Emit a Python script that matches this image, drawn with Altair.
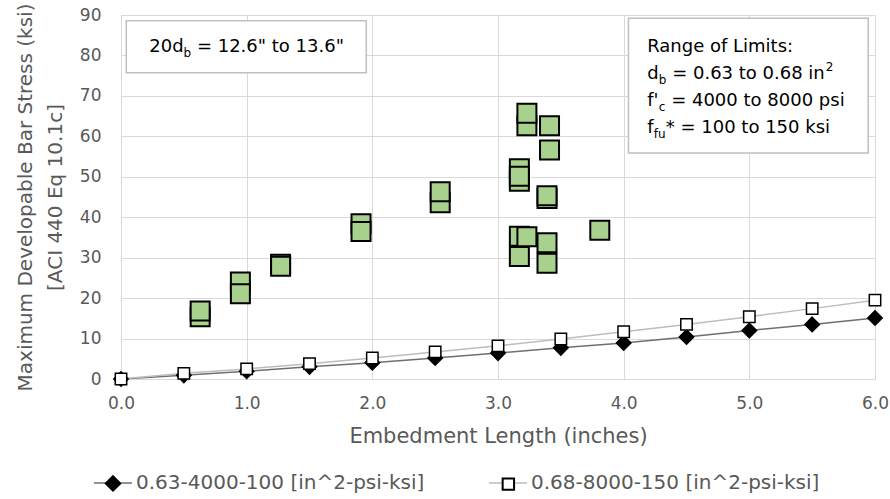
import altair as alt
import pandas as pd

# ---------------- data ----------------
emb_len = [0.0, 0.5, 1.0, 1.5, 2.0, 2.5, 3.0, 3.5, 4.0, 4.5, 5.0, 5.5, 6.0]
stress_low = [0.0, 0.9, 1.9, 3.0, 4.0, 5.2, 6.4, 7.7, 8.9, 10.4, 12.0, 13.5, 15.1]
stress_high = [0.0, 1.4, 2.5, 3.8, 5.2, 6.7, 8.2, 9.9, 11.7, 13.5, 15.4, 17.4, 19.5]
series_names = ["0.63-4000-100 [in^2-psi-ksi]", "0.68-8000-150 [in^2-psi-ksi]"]
marker_keys = ["m0", "m1"]

test_x = [0.63, 0.63, 0.95, 0.95, 1.27, 1.27, 1.91, 1.91, 2.54, 2.54,
          3.17, 3.17, 3.17, 3.17, 3.17, 3.23, 3.23, 3.23,
          3.41, 3.41, 3.39, 3.39, 3.39, 3.39, 3.81]
test_y = [15.4, 16.8, 24.0, 21.1, 28.4, 27.9, 38.4, 36.5, 43.6, 46.3,
          52.0, 48.9, 50.1, 35.3, 30.3, 62.6, 65.7, 35.2,
          62.6, 56.6, 44.6, 45.3, 33.7, 28.6, 36.8]

x_ticks = [0, 1, 2, 3, 4, 5, 6]
y_ticks = [0, 10, 20, 30, 40, 50, 60, 70, 80, 90]

FONT = "DejaVu Sans"
GRID = "#d9d9d9"
TXT = "#595959"

n = len(emb_len)
lines_df = pd.DataFrame({
    "x": emb_len + emb_len,
    "y": stress_low + stress_high,
    "series": [series_names[0]] * n + [series_names[1]] * n,
    "series_m": [marker_keys[0]] * n + [marker_keys[1]] * n,
})
tests_df = pd.DataFrame({"x": test_x, "y": test_y})
one_row = pd.DataFrame({"k": [0]})

x_scale = alt.Scale(domain=[0, 6], nice=False, zero=False)
y_scale = alt.Scale(domain=[0, 90], nice=False)
x_axis = alt.Axis(values=x_ticks, format=".1f", title="Embedment Length (inches)")
y_axis = alt.Axis(values=y_ticks, format="d",
                  title=["Maximum Developable Bar Stress (ksi)", "[ACI 440 Eq 10.1c]"])


def X(f):
    return alt.X(f, type="quantitative", scale=x_scale, axis=x_axis)


def Y(f):
    return alt.Y(f, type="quantitative", scale=y_scale, axis=y_axis)


def XD(v):
    return alt.XDatum(v, type="quantitative", scale=x_scale, axis=x_axis)


def YD(v):
    return alt.YDatum(v, type="quantitative", scale=y_scale, axis=y_axis)


# legend: lines + labels (A) with the markers (B) drawn over the line centres.
# B has blank labels (zero width), so its column padding spans A's label.
LEG_FS = 20
LABEL_W = 14.418 * LEG_FS          # A label width (DejaVu Sans)
LAB_OFF = 3
GAP = 61
common_leg = dict(title=None, orient="none", legendX=-28, legendY=448,
                  direction="horizontal", symbolSize=1444,
                  labelFont=FONT, labelColor=TXT, labelOffset=LAB_OFF, labelLimit=600)
leg_lines = alt.Legend(symbolType="stroke", symbolStrokeWidth=1.5, zindex=1,
                       columnPadding=GAP, labelFontSize=LEG_FS, **common_leg)
leg_marks = alt.Legend(symbolOpacity=1, symbolStrokeWidth=2, labelExpr="' '",
                       labelFontSize=1, columnPadding=LAB_OFF + LABEL_W + GAP,
                       zindex=2, **common_leg)

lines = alt.Chart(lines_df).mark_line(strokeWidth=1.5).encode(
    x=X("x"), y=Y("y"),
    color=alt.Color("series:N", scale=alt.Scale(domain=series_names,
                                                range=["#6f6f6f", "#bdbdbd"]),
                    legend=leg_lines),
)

diamond = "M0,-0.38L0.38,0L0,0.38L-0.38,0Z"
square = "M-0.3,-0.3L0.3,-0.3L0.3,0.3L-0.3,0.3Z"
markers = alt.Chart(lines_df).mark_point(filled=True, size=1444,
                                         strokeWidth=1.5, opacity=1).encode(
    x=X("x"), y=Y("y"),
    shape=alt.Shape("series_m:N", scale=alt.Scale(domain=marker_keys,
                                                  range=[diamond, square]),
                    legend=leg_marks),
    fill=alt.Fill("series_m:N", scale=alt.Scale(domain=marker_keys,
                                                range=["black", "white"]),
                  legend=leg_marks),
    stroke=alt.Stroke("series_m:N", scale=alt.Scale(domain=marker_keys,
                                                    range=["black", "black"]),
                      legend=leg_marks),
)

tests = alt.Chart(tests_df).mark_point(shape="square", filled=True, size=361,
                                       fill="#a9d18e", stroke="black",
                                       strokeWidth=2, opacity=1).encode(
    x=X("x"), y=Y("y"))

# annotation boxes
box1 = alt.Chart(one_row).mark_rect(fill="white", stroke="#bfbfbf", strokeWidth=1.5).encode(
    x=XD(0.042), x2=alt.X2Datum(1.952), y=YD(88.6), y2=alt.Y2Datum(75.7))
box2 = alt.Chart(one_row).mark_rect(fill="white", stroke="#bfbfbf", strokeWidth=1.5).encode(
    x=XD(4.038), x2=alt.X2Datum(5.946), y=YD(89.2), y2=alt.Y2Datum(55.9))


def piece(xv, yv, text, dx=0, dy=0, size=18):
    return alt.Chart(one_row).mark_text(text=text, align="left", baseline="middle",
                                        font=FONT, fontSize=size, color="black",
                                        dx=dx, dy=dy).encode(x=XD(xv), y=YD(yv))


SUB = 12
b1x, b1y = 0.997, 82.2
texts = [
    piece(b1x, b1y, "20d", dx=-97),
    piece(b1x, b1y, "b", dx=-62.7, dy=6, size=SUB),
    piece(b1x, b1y, "= 12.6\" to 13.6\"", dx=-49.4),
]
b2x, b2y = 4.187, 82.2
texts += [
    piece(b2x, b2y, "Range of Limits:"),
    piece(b2x, b2y, "d", dy=27),
    piece(b2x, b2y, "b", dx=11.6, dy=33, size=SUB),
    piece(b2x, b2y, "= 0.63 to 0.68 in", dx=25, dy=27),
    piece(b2x, b2y, "2", dx=178.5, dy=20, size=SUB),
    piece(b2x, b2y, "f'", dy=54),
    piece(b2x, b2y, "c", dx=11.5, dy=60, size=SUB),
    piece(b2x, b2y, "= 4000 to 8000 psi", dx=24, dy=54),
    piece(b2x, b2y, "f", dy=81),
    piece(b2x, b2y, "fu", dx=6.5, dy=87, size=SUB),
    piece(b2x, b2y, "* = 100 to 150 ksi", dx=18.6, dy=81),
]

chart = alt.layer(lines, markers, tests, box1, box2, *texts).properties(
    width=754, height=364,
    padding={"left": 121, "top": 15, "right": 15, "bottom": 120},
    autosize=alt.AutoSizeParams(type="none"),
).configure_view(stroke="transparent").configure_axis(
    grid=True, gridColor=GRID, gridWidth=1, domainColor=GRID, domainWidth=1,
    ticks=False, labelFont=FONT, labelFontSize=17, labelColor=TXT, labelFlush=False,
    titleFont=FONT, titleColor=TXT, titleFontWeight="normal",
).configure_axisX(labelPadding=16, titlePadding=14, titleFontSize=21).configure_axisY(
    labelPadding=20, titlePadding=14, titleFontSize=20, titleLineHeight=30)

chart.save("out.html", embed_options={"renderer": "svg", "actions": False})
